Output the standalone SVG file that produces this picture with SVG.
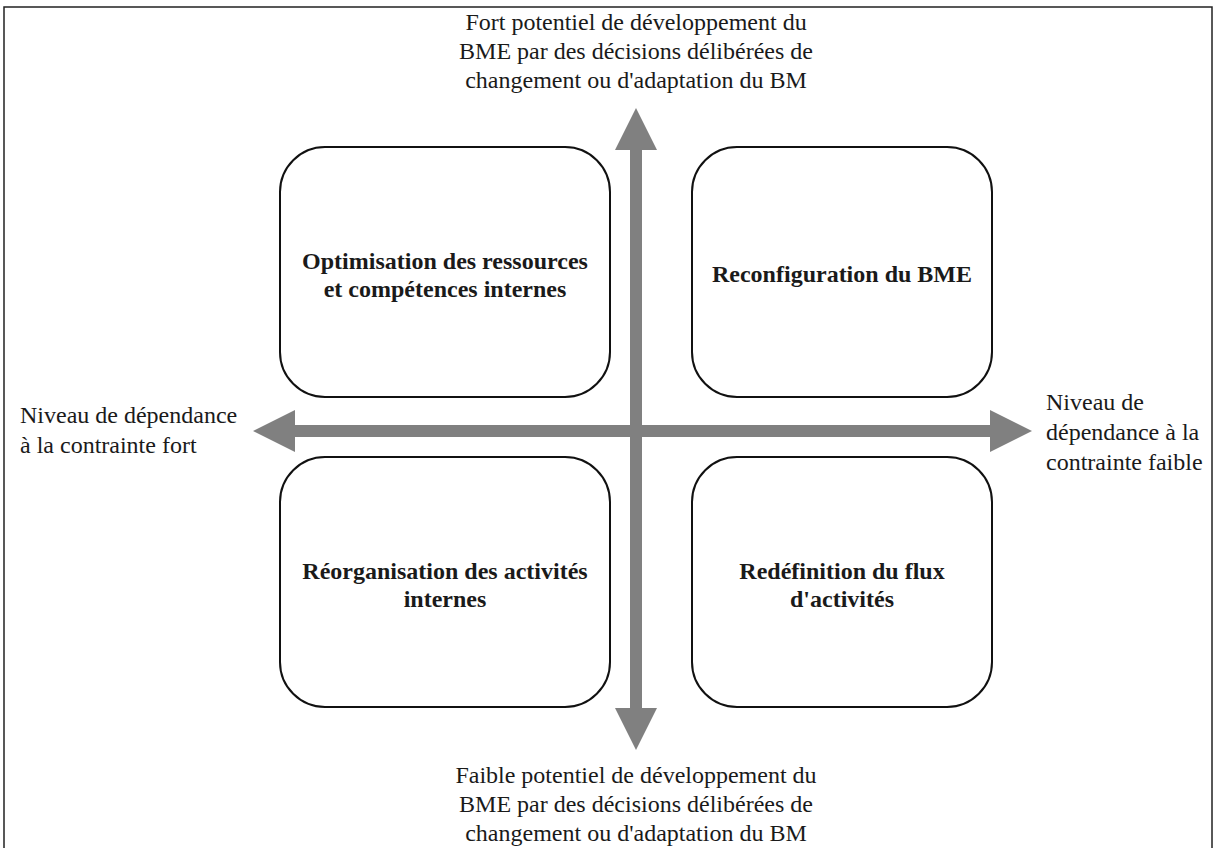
<svg xmlns="http://www.w3.org/2000/svg" width="1217" height="848" viewBox="0 0 1217 848">
<style>
.lbl{font-family:"Liberation Serif","Times New Roman",serif;font-size:24px;fill:#1a1a1a}
.box{fill:#fff;stroke:#111;stroke-width:2}
.bt{font-family:"Liberation Serif","Times New Roman",serif;font-size:24px;font-weight:bold;fill:#1a1a1a;text-anchor:middle}
.ax{fill:#808080}
</style>
<rect x="0" y="0" width="1217" height="848" fill="#fff"/>
<rect x="4" y="7" width="1208" height="850" fill="none" stroke="#222" stroke-width="1.5"/>
<g id="label-top" class="lbl" text-anchor="middle">
<text x="636" y="30">Fort potentiel de développement du</text>
<text x="636" y="59">BME par des décisions délibérées de</text>
<text x="636" y="88">changement ou d'adaptation du BM</text>
</g>
<g id="label-bottom" class="lbl" text-anchor="middle">
<text x="636" y="783">Faible potentiel de développement du</text>
<text x="636" y="812">BME par des décisions délibérées de</text>
<text x="636" y="841">changement ou d'adaptation du BM</text>
</g>
<g id="label-left" class="lbl">
<text x="20" y="423">Niveau de dépendance</text>
<text x="20" y="453">à la contrainte fort</text>
</g>
<g id="label-right" class="lbl">
<text x="1046" y="410">Niveau de</text>
<text x="1046" y="440">dépendance à la</text>
<text x="1046" y="470">contrainte faible</text>
</g>
<g id="box-tl"><rect class="box" x="280" y="147" width="330" height="250" rx="45"/>
<text class="bt" x="445" y="269">Optimisation des ressources</text>
<text class="bt" x="445" y="297">et compétences internes</text></g>
<g id="box-tr"><rect class="box" x="692" y="147" width="300" height="250" rx="45"/>
<text class="bt" x="842" y="282">Reconfiguration du BME</text></g>
<g id="box-bl"><rect class="box" x="280" y="457" width="330" height="250" rx="45"/>
<text class="bt" x="445" y="579">Réorganisation des activités</text>
<text class="bt" x="445" y="607">internes</text></g>
<g id="box-br"><rect class="box" x="692" y="457" width="300" height="250" rx="45"/>
<text class="bt" x="842" y="579">Redéfinition du flux</text>
<text class="bt" x="842" y="607">d'activités</text></g>
<g id="connectors" class="ax">
<polygon points="636,108 657,150 642,150 642,708 657,708 636,750 615,708 630,708 630,150 615,150"/>
<polygon points="253,431 295,410 295,425 990,425 990,410 1032,431 990,452 990,437 295,437 295,452"/>
</g>
</svg>
